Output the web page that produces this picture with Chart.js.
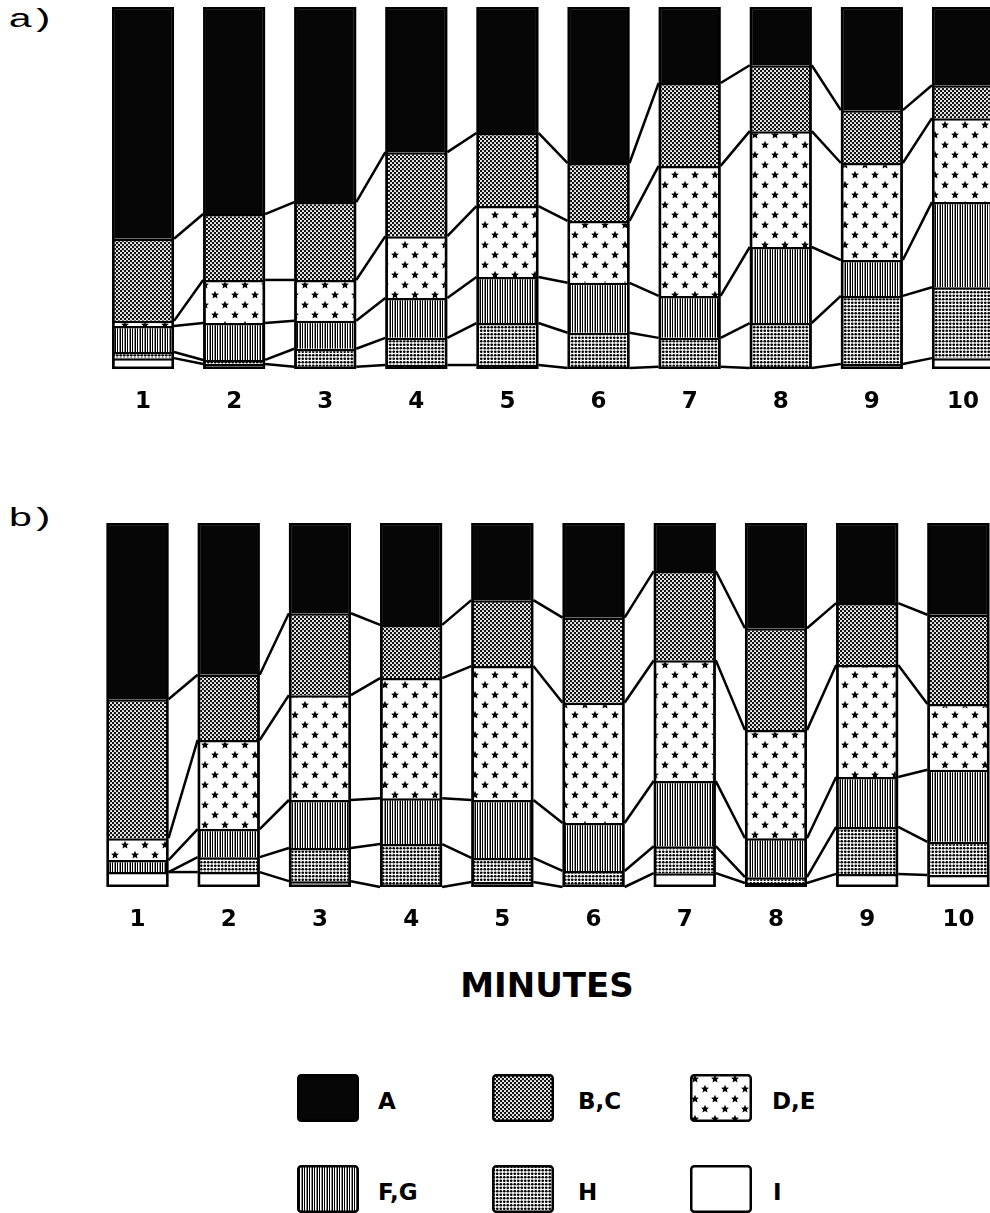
<!DOCTYPE html>
<html>
<head>
<meta charset="utf-8">
<script src="https://cdn.jsdelivr.net/npm/chart.js@4.4.0/dist/chart.umd.min.js"></script>
<style>
html,body{margin:0;padding:0;background:#fff;}
#page{position:relative;width:990px;height:1213px;overflow:hidden;background:#fff;}
.plabel{position:absolute;left:8px;font-family:"Liberation Mono","DejaVu Sans Mono",monospace;font-size:26px;line-height:26px;color:#000;transform:scale(1.6,1);transform-origin:0 0;letter-spacing:-2px;}
canvas.chart{position:absolute;left:0;}
#xtitle{position:absolute;left:397px;width:300px;top:968px;text-align:center;font-family:"DejaVu Sans",sans-serif;font-weight:bold;font-size:34px;line-height:34px;color:#000;}
.sw{position:absolute;}
.lt{position:absolute;font-family:"DejaVu Sans",sans-serif;font-weight:bold;font-size:23px;line-height:23px;color:#000;white-space:nowrap;}
</style>
</head>
<body>
<div id="page">
  <div class="plabel" style="top:7px;">a)</div>
  <div class="plabel" style="top:506px;">b)</div>
  <canvas id="chartA" class="chart" width="1010" height="440" style="top:0px;"></canvas>
  <canvas id="chartB" class="chart" width="1010" height="440" style="top:500px;"></canvas>
  <div id="xtitle">MINUTES</div>
  <div id="legend"></div>
</div>
<script>
// ---- data (percent of each bar) ----
const minutes = ['1','2','3','4','5','6','7','8','9','10'];
const seriesNames = ['A','B,C','D,E','F,G','H','I'];

// panel a)
const aA  = [64.0,57.2,53.9,40.1,34.8,43.1,21.0,16.1,28.5,21.6];
const aBC = [22.7,18.2,21.5,23.2,20.2,16.0,22.9,18.2,14.6, 9.1];
const aDE = [ 1.4,11.9,11.3,17.1,19.6,17.1,35.9,32.0,26.8,23.2];
const aFG = [ 7.2,10.2, 7.7,11.0,12.7,13.8,11.6,21.0, 9.9,23.5];
const aH  = [ 1.7, 1.1, 5.0, 7.5,11.6, 9.7, 8.0,12.4,18.8,19.6];
const aI  = [ 3.0, 1.4, 0.6, 1.1, 1.1, 0.3, 0.6, 0.3, 1.4, 3.0];

// panel b)
const bA  = [48.4,41.7,24.8,28.0,21.2,26.0,13.2,28.9,22.0,25.2];
const bBC = [38.2,17.9,22.5,14.6,18.1,23.4,24.5,28.0,17.0,24.5];
const bDE = [ 6.0,24.5,28.8,33.0,36.8,33.0,33.2,29.7,30.8,18.1];
const bFG = [ 3.3, 7.7,13.2,12.6,15.9,13.2,17.9,10.7,13.7,19.8];
const bH  = [ 0.0, 4.1, 9.1,11.8, 6.6, 4.4, 7.4, 1.6,12.9, 9.1];
const bI  = [ 4.1, 4.1, 1.6, 0.0, 1.4, 0.0, 3.8, 1.1, 3.6, 3.3];

// ---- fill patterns ----
function tile(w, h, draw) {
  const c = document.createElement('canvas');
  c.width = w; c.height = h;
  const g = c.getContext('2d');
  draw(g, w, h);
  return g.createPattern(c, 'repeat');
}
function star(g, cx, cy, ro, ri) {
  g.beginPath();
  for (let i = 0; i < 10; i++) {
    const r = i % 2 ? ri : ro;
    const a = -Math.PI / 2 + i * Math.PI / 5;
    const px = cx + r * Math.cos(a), py = cy + r * Math.sin(a);
    if (i) g.lineTo(px, py); else g.moveTo(px, py);
  }
  g.closePath(); g.fill();
}
const patA = '#060606';
const patBC = tile(4, 4, (g) => {
  g.fillStyle = '#141414'; g.fillRect(0, 0, 4, 4);
  g.fillStyle = '#fff';
  g.beginPath(); g.arc(1, 1, 1.05, 0, Math.PI * 2); g.fill();
  g.beginPath(); g.arc(3, 3, 1.05, 0, Math.PI * 2); g.fill();
});
const patDE = tile(20, 20, (g) => {
  g.fillStyle = '#fff'; g.fillRect(0, 0, 20, 20);
  g.fillStyle = '#000';
  star(g, 5, 5, 4.2, 2.0);
  star(g, 15, 15, 4.2, 2.0);
});
const patFG = tile(5, 1, (g) => {
  g.fillStyle = '#fff'; g.fillRect(0, 0, 5, 1);
  g.fillStyle = '#000'; g.fillRect(0, 0, 1, 1); g.fillRect(2, 0, 1, 1);
  g.fillStyle = '#888'; g.fillRect(4, 0, 1, 1);
});
const patH = tile(7, 7, (g) => {
  g.fillStyle = '#fff'; g.fillRect(0, 0, 7, 7);
  g.fillStyle = '#000';
  [[1.75,1.75],[5.25,1.75],[1.75,5.25],[5.25,5.25]].forEach(([x,y]) => {
    g.beginPath(); g.arc(x, y, 1.35, 0, Math.PI * 2); g.fill();
  });
});
const patI = '#ffffff';
const fills = [patA, patBC, patDE, patFG, patH, patI];

// ---- connector lines + outer outline plugin ----
const connectors = {
  id: 'connectors',
  afterDatasetsDraw(chart) {
    const ctx = chart.ctx, ys = chart.scales.y;
    const sets = chart.data.datasets;
    const n = chart.data.labels.length;
    const meta = chart.getDatasetMeta(sets.length - 1);
    const cum = (i, k) => { let s = 0; for (let d = 0; d <= k; d++) s += sets[d].data[i]; return s; };
    ctx.save();
    ctx.strokeStyle = '#000';
    ctx.lineWidth = 2.5;
    for (let i = 0; i < n - 1; i++) {
      const p1 = meta.data[i].getProps(['x', 'width'], true);
      const p2 = meta.data[i + 1].getProps(['x', 'width'], true);
      const x1 = p1.x + p1.width / 2, x2 = p2.x - p2.width / 2;
      for (let k = 0; k < sets.length - 1; k++) {
        ctx.beginPath();
        ctx.moveTo(x1, ys.getPixelForValue(cum(i, k)));
        ctx.lineTo(x2, ys.getPixelForValue(cum(i + 1, k)));
        ctx.stroke();
      }
    }
    for (let i = 0; i < n; i++) {
      const p = meta.data[i].getProps(['x', 'width'], true);
      const top = ys.getPixelForValue(cum(i, sets.length - 1));
      const bot = ys.getPixelForValue(0);
      ctx.strokeRect(p.x - p.width / 2 + 1.25, top + 1.25, p.width - 2.5, bot - top - 2.5);
    }
    ctx.restore();
  }
};

function makeChart(id, series, pad) {
  // bottom-to-top stacking order: I, H, F/G, D/E, B/C, A
  const order = [5, 4, 3, 2, 1, 0];
  const datasets = order.map((s) => ({
    label: seriesNames[s],
    data: series[s],
    backgroundColor: fills[s],
    borderColor: '#000',
    borderWidth: 2.5,
    borderSkipped: 'start',
    barPercentage: 0.68,
    categoryPercentage: 1.0
  }));
  return new Chart(document.getElementById(id), {
    type: 'bar',
    data: { labels: minutes, datasets },
    options: {
      responsive: false,
      animation: false,
      devicePixelRatio: 1,
      layout: { padding: pad },
      plugins: { legend: { display: false }, tooltip: { enabled: false } },
      scales: {
        x: {
          stacked: true,
          grid: { display: false },
          border: { display: false },
          ticks: {
            color: '#000',
            padding: 11,
            font: { family: 'DejaVu Sans', weight: 'bold', size: 23 }
          },
          afterFit: (s) => { s.height = 50; }
        },
        y: { stacked: true, display: false, min: 0, max: 100 }
      }
    },
    plugins: [connectors]
  });
}

makeChart('chartA', [aA, aBC, aDE, aFG, aH, aI], { left: 97.5, right: 1.5, top: 7, bottom: 21 });
makeChart('chartB', [bA, bBC, bDE, bFG, bH, bI], { left: 91.9, right: 6, top: 23, bottom: 3 });

// ---- legend ----
const legendPos = [
  { x: 297, y: 1074, tx: 378 }, { x: 492, y: 1074, tx: 578 }, { x: 690, y: 1074, tx: 772 },
  { x: 297, y: 1165, tx: 378 }, { x: 492, y: 1165, tx: 578 }, { x: 690, y: 1165, tx: 773 }
];
const legend = document.getElementById('legend');
seriesNames.forEach((name, i) => {
  const p = legendPos[i];
  const c = document.createElement('canvas');
  c.width = 62; c.height = 48; c.className = 'sw';
  c.style.left = p.x + 'px'; c.style.top = p.y + 'px';
  const g = c.getContext('2d');
  g.fillStyle = fills[i];
  g.beginPath(); g.roundRect(1.25, 1.25, 59.5, 45.5, 3); g.fill();
  g.strokeStyle = '#000'; g.lineWidth = 2.5; g.stroke();
  legend.appendChild(c);
  const t = document.createElement('div');
  t.className = 'lt'; t.textContent = name;
  t.style.left = p.tx + 'px'; t.style.top = (p.y + 16) + 'px';
  legend.appendChild(t);
});
</script>
</body>
</html>
